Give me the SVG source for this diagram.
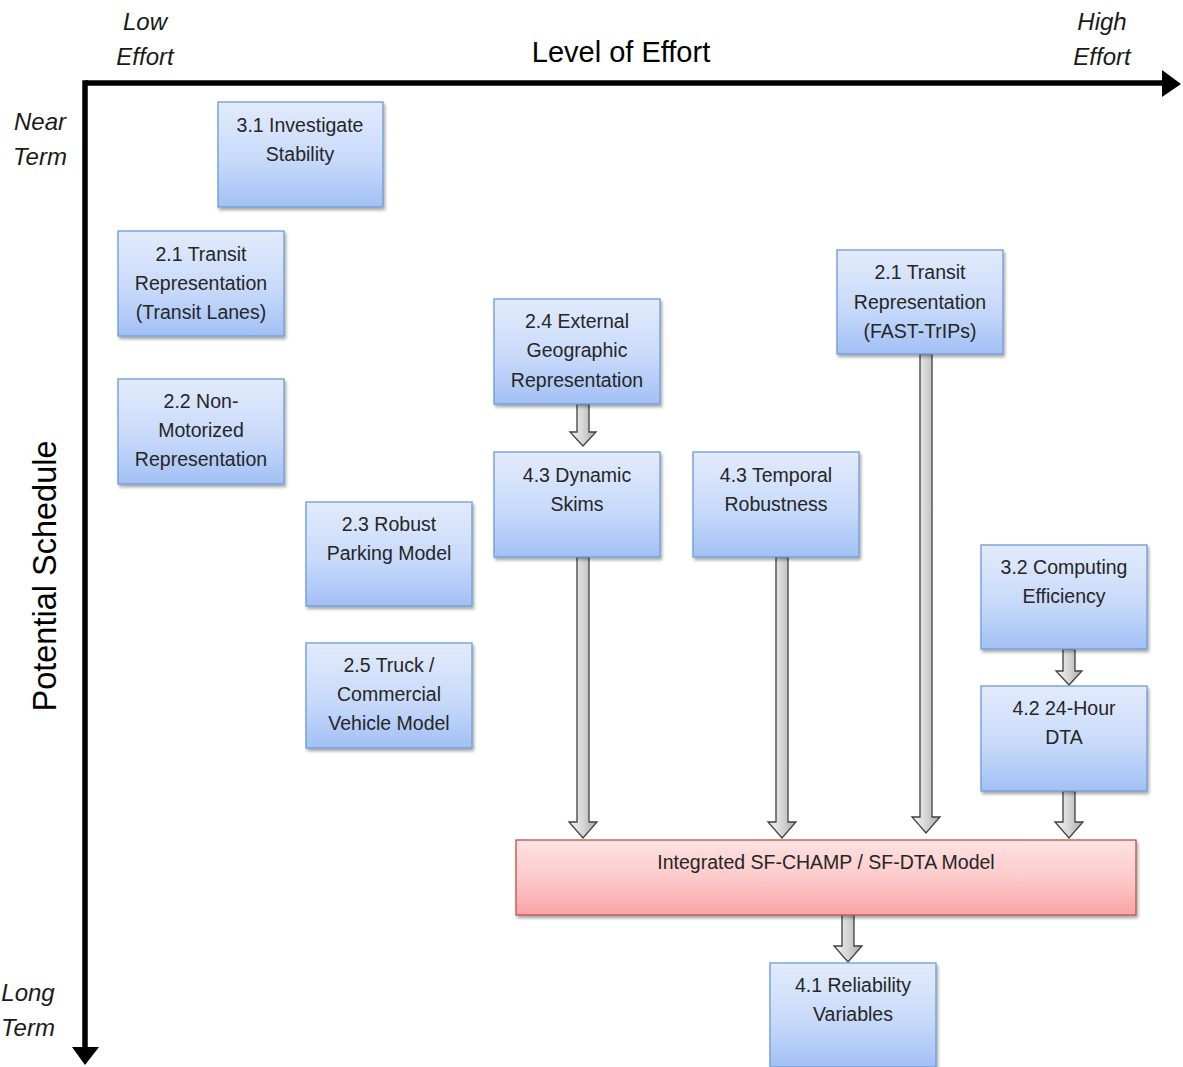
<svg xmlns="http://www.w3.org/2000/svg" width="1183" height="1067" viewBox="0 0 1183 1067">
<defs>
<linearGradient id="gBlue" x1="0" y1="0" x2="0" y2="1">
<stop offset="0" stop-color="#e2ebfc"/><stop offset="0.55" stop-color="#c8dafa"/><stop offset="1" stop-color="#a2c0f5"/>
</linearGradient>
<linearGradient id="gPink" x1="0" y1="0" x2="0" y2="1">
<stop offset="0" stop-color="#fde2e2"/><stop offset="0.5" stop-color="#fccaca"/><stop offset="1" stop-color="#f8a5a5"/>
</linearGradient>
<linearGradient id="gGray" x1="0" y1="0" x2="1" y2="0">
<stop offset="0" stop-color="#f4f4f4"/><stop offset="0.5" stop-color="#d6d6d6"/><stop offset="1" stop-color="#a8a8a8"/>
</linearGradient>
<filter id="sh" x="-10%" y="-10%" width="120%" height="130%">
<feDropShadow dx="1.5" dy="2.5" stdDeviation="1.5" flood-color="#000" flood-opacity="0.35"/>
</filter>
<style>
.box{fill:url(#gBlue);stroke:#6e9cd6;stroke-width:1.3;filter:url(#sh)}
.pbox{fill:url(#gPink);stroke:#c0504d;stroke-width:1.3;filter:url(#sh)}
.t{font-family:"Liberation Sans",Arial,sans-serif;font-size:19.5px;fill:#262626;text-anchor:middle}
.ax{font-family:"Liberation Sans",Arial,sans-serif;font-size:24px;font-style:italic;fill:#1a1a1a;text-anchor:middle}
.big{font-family:"Liberation Sans",Arial,sans-serif;font-size:29px;fill:#000;text-anchor:middle}
.arr{fill:url(#gGray);stroke:#404040;stroke-width:1.3;stroke-linejoin:miter}
</style>
</defs>
<rect width="1183" height="1067" fill="#fff"/>
<g id="axes">
<path d="M85 83 H1165" stroke="#000" stroke-width="5.5" fill="none"/>
<path d="M85 80.3 V1050" stroke="#000" stroke-width="5.5" fill="none"/>
<polygon points="1162,70 1181,84 1162,97" fill="#000"/>
<polygon points="72,1047 99,1047 85,1065" fill="#000"/>
<text class="big" x="621" y="62">Level of Effort</text>
<text class="ax" x="145" y="30">Low</text>
<text class="ax" x="145" y="65">Effort</text>
<text class="ax" x="1102" y="30">High</text>
<text class="ax" x="1102" y="65">Effort</text>
<text class="ax" x="40" y="130">Near</text>
<text class="ax" x="40" y="165">Term</text>
<text class="ax" x="28" y="1001">Long</text>
<text class="ax" x="28" y="1036">Term</text>
<text class="big" transform="translate(56,576) rotate(-90)" style="font-size:32.5px">Potential Schedule</text>
</g>
<g id="connectors">
<path class="arr" d="M577 404 H589 V432 H596 L583 446 L570 432 H577 Z"/>
<path class="arr" d="M577 557 H589 V822 H597 L583 838 L569 822 H577 Z"/>
<path class="arr" d="M776 557 H788 V822 H796 L782 838 L768 822 H776 Z"/>
<path class="arr" d="M920 354 H932 V817 H940 L926 833 L912 817 H920 Z"/>
<path class="arr" d="M1063 649 H1075 V671 H1082 L1069 685 L1056 671 H1063 Z"/>
<path class="arr" d="M1063 791 H1075 V822 H1083 L1069 838 L1055 822 H1063 Z"/>
<path class="arr" d="M842 913 H854 V946 H862 L848 962 L834 946 H842 Z"/>
</g>
<g id="n31"><rect class="box" x="218" y="102" width="165" height="105"/>
<text class="t" x="300" y="132">3.1 Investigate</text><text class="t" x="300" y="161">Stability</text></g>
<g id="n21a"><rect class="box" x="118" y="231" width="166" height="105"/>
<text class="t" x="201" y="261">2.1 Transit</text><text class="t" x="201" y="290">Representation</text><text class="t" x="201" y="319">(Transit Lanes)</text></g>
<g id="n22"><rect class="box" x="118" y="379" width="166" height="105"/>
<text class="t" x="201" y="408">2.2 Non-</text><text class="t" x="201" y="437">Motorized</text><text class="t" x="201" y="466">Representation</text></g>
<g id="n23"><rect class="box" x="306" y="502" width="166" height="104"/>
<text class="t" x="389" y="531">2.3 Robust</text><text class="t" x="389" y="560">Parking Model</text></g>
<g id="n25"><rect class="box" x="306" y="643" width="166" height="105"/>
<text class="t" x="389" y="672">2.5 Truck /</text><text class="t" x="389" y="701">Commercial</text><text class="t" x="389" y="730">Vehicle Model</text></g>
<g id="n24"><rect class="box" x="494" y="299" width="166" height="105"/>
<text class="t" x="577" y="328">2.4 External</text><text class="t" x="577" y="357">Geographic</text><text class="t" x="577" y="387">Representation</text></g>
<g id="n43d"><rect class="box" x="494" y="452" width="166" height="105"/>
<text class="t" x="577" y="482">4.3 Dynamic</text><text class="t" x="577" y="511">Skims</text></g>
<g id="n43t"><rect class="box" x="693" y="452" width="166" height="105"/>
<text class="t" x="776" y="482">4.3 Temporal</text><text class="t" x="776" y="511">Robustness</text></g>
<g id="n21b"><rect class="box" x="837" y="250" width="166" height="104"/>
<text class="t" x="920" y="279">2.1 Transit</text><text class="t" x="920" y="309">Representation</text><text class="t" x="920" y="338">(FAST-TrIPs)</text></g>
<g id="n32"><rect class="box" x="981" y="545" width="166" height="104"/>
<text class="t" x="1064" y="574">3.2 Computing</text><text class="t" x="1064" y="603">Efficiency</text></g>
<g id="n42"><rect class="box" x="981" y="686" width="166" height="105"/>
<text class="t" x="1064" y="715">4.2 24-Hour</text><text class="t" x="1064" y="744">DTA</text></g>
<g id="nint"><rect class="pbox" x="516" y="840" width="620" height="75"/>
<text class="t" x="826" y="869">Integrated SF-CHAMP / SF-DTA Model</text></g>
<g id="n41"><rect class="box" x="770" y="963" width="166" height="104"/>
<text class="t" x="853" y="992">4.1 Reliability</text><text class="t" x="853" y="1021">Variables</text></g>
</svg>
